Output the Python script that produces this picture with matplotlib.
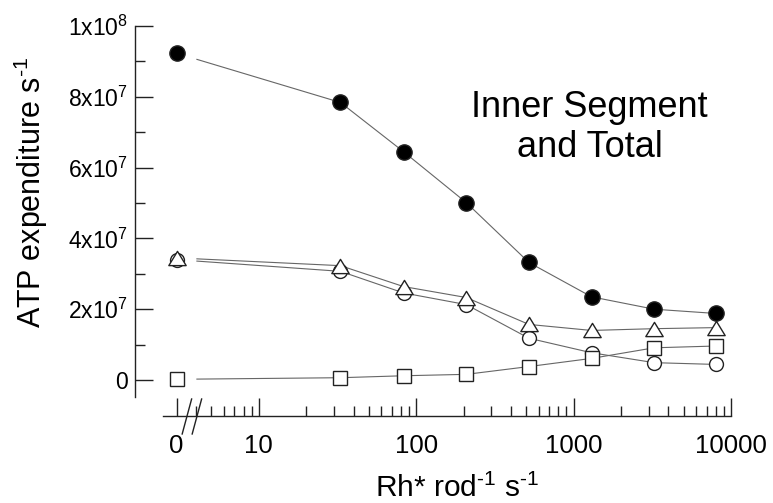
import numpy as np
import matplotlib
matplotlib.use('Agg')
import matplotlib.pyplot as plt
from matplotlib.path import Path
from matplotlib.ticker import FixedLocator, NullFormatter, LogLocator
from matplotlib.transforms import blended_transform_factory

plt.rcParams['font.family'] = ['Liberation Sans', 'DejaVu Sans']
plt.rcParams['mathtext.fontset'] = 'custom'
plt.rcParams['mathtext.rm'] = 'Liberation Sans'
plt.rcParams['mathtext.it'] = 'Liberation Sans:italic'
plt.rcParams['mathtext.bf'] = 'Liberation Sans:bold'

# light intensity (Rh* rod-1 s-1); the dark value 0 is drawn at x = 3 on the log axis
light = [0, 33, 83, 208, 520, 1300, 3250, 8000]
zero_pos = 3.0

# ATP expenditure s-1
filled_circ = [9.23e7, 7.84e7, 6.45e7, 5.01e7, 3.32e7, 2.35e7, 2.00e7, 1.88e7]
open_tri = [3.45e7, 3.23e7, 2.64e7, 2.33e7, 1.57e7, 1.40e7, 1.45e7, 1.48e7]
open_circ = [3.40e7, 3.07e7, 2.46e7, 2.13e7, 1.18e7, 0.77e7, 0.49e7, 0.44e7]
open_sq = [0.02e7, 0.065e7, 0.12e7, 0.16e7, 0.38e7, 0.61e7, 0.91e7, 0.96e7]

xticks = [zero_pos, 10, 100, 1000, 10000]
xtick_labels = ['0', '10', '100', '1000', '10000']
yticks = [0, 2e7, 4e7, 6e7, 8e7, 1e8]
ytick_labels = ['0', r'$\mathregular{2x10^{7}}$', r'$\mathregular{4x10^{7}}$',
                r'$\mathregular{6x10^{7}}$', r'$\mathregular{8x10^{7}}$',
                r'$\mathregular{1x10^{8}}$']

x_break = 4.04  # where the connecting lines resume after the axis break

HY = '\u2010'  # short hyphen used in the superscripts
sup = r'$^{\mathregular{' + HY + '1}}$'

W, H = 773, 503
fig = plt.figure(figsize=(W / 100, H / 100), dpi=100)
ax = fig.add_axes([163 / W, 106 / H, 568 / W, 371 / H])
ax.set_xscale('log')
ax.set_xlim(2.46, 10000)
ax.set_ylim(-4.8e6, 1e8)

xs = np.array(light, dtype=float)
xs[0] = zero_pos

# flatter triangle than the stock '^'
tri = Path([(0, 0.82), (-1, -0.82), (1, -0.82), (0, 0.82)],
           [Path.MOVETO, Path.LINETO, Path.LINETO, Path.CLOSEPOLY])

line_kw = dict(color='#666666', lw=0.8, zorder=1)


def draw_series(vals, marker, ms, face, z):
    vals = np.array(vals, dtype=float)
    # line starts at the break, interpolated in log-x between first two points
    t = (np.log10(x_break) - np.log10(xs[0])) / (np.log10(xs[1]) - np.log10(xs[0]))
    y_b = vals[0] + t * (vals[1] - vals[0])
    lx = np.concatenate([[x_break], xs[1:]])
    ly = np.concatenate([[y_b], vals[1:]])
    ax.plot(lx, ly, **line_kw)
    ax.plot(xs, vals, ls='none', marker=marker, ms=ms, mfc=face,
            mec='#222222', mew=1.0, zorder=z, clip_on=False)


draw_series(open_circ, 'o', 10, 'white', 3)
draw_series(open_sq, 's', 9.6, 'white', 4)
draw_series(open_tri, tri, 12.5, 'white', 5)
draw_series(filled_circ, 'o', 11, 'black', 6)

# axes styling (detached spines)
for s in ['top', 'right']:
    ax.spines[s].set_visible(False)
ax.spines['left'].set_position(('outward', 20.2))
ax.spines['bottom'].set_position(('outward', 13.7))
for s in ['left', 'bottom']:
    ax.spines[s].set_linewidth(1.0)
    ax.spines[s].set_color('#222222')

ax.set_xticks(xticks)
ax.set_xticklabels(xtick_labels)
ax.xaxis.set_minor_locator(LogLocator(base=10, subs=np.arange(2, 10)))
ax.xaxis.set_minor_formatter(NullFormatter())
ax.set_yticks(yticks)
ax.set_yticklabels(ytick_labels)
ax.yaxis.set_minor_locator(FixedLocator([1e7, 3e7, 5e7, 7e7, 9e7]))

ax.tick_params(which='both', direction='in', color='#222222', width=1.0)
ax.tick_params(which='major', length=13)
ax.tick_params(which='minor', length=7)
ax.tick_params(axis='x', labelsize=18.5, pad=13)
ax.tick_params(axis='y', labelsize=16.5, pad=5)

# axis break marks
trans = blended_transform_factory(ax.transData, ax.transAxes)
for xc in [3.49, 4.04]:
    lc = np.log10(xc)
    ax.plot([10 ** (lc - 0.03), 10 ** (lc + 0.03)], [-0.0997, -0.0054],
            color='#222222', lw=1.0, transform=trans, clip_on=False)

fig.text(457.5 / W, 1 - 497 / H, 'Rh* rod' + sup + ' s' + sup, fontsize=21.5,
         ha='center', va='baseline')
fig.text(31 / W, 1 - 192 / H, 'ATP expenditure s' + sup, fontsize=22,
         rotation=90, ha='center', va='center')
fig.text(589.5 / W, 1 - 156.7 / H, 'Inner Segment\nand Total', fontsize=26,
         ha='center', va='baseline', multialignment='center', linespacing=1.18)

fig.savefig('out.png', dpi=100)
